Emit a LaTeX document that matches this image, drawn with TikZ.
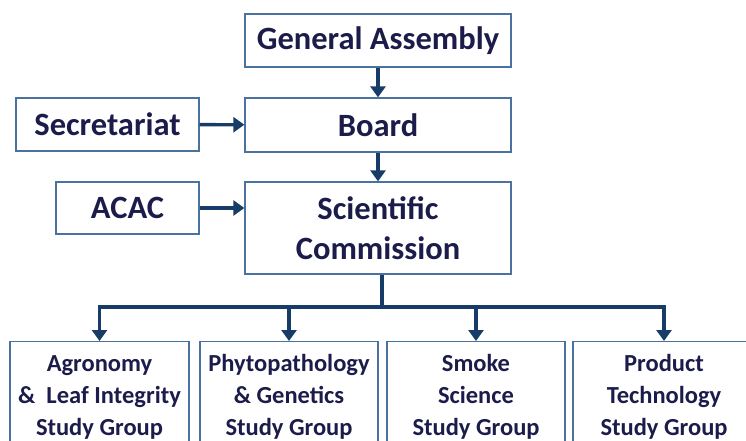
\documentclass[tikz,border=0pt]{standalone}
\usepackage{fontspec}
\setmainfont{Carlito}
\usetikzlibrary{arrows.meta}
\definecolor{linkblue}{HTML}{173C68}
\definecolor{edgeblue}{HTML}{4A72A0}
\definecolor{inkblue}{HTML}{1C1C4A}

\begin{document}
\begin{tikzpicture}[x=1pt, y=-1pt,
    unitbox/.style={draw=edgeblue, line width=1.3pt, text=inkblue, align=center, inner sep=0pt,
        font=\fontsize{32.5}{40}\selectfont\bfseries},
    groupbox/.style={unitbox, anchor=north, minimum height=111pt,
        font=\fontsize{24.5}{32}\selectfont\bfseries},
    link/.style={-{Triangle[length=11pt, width=15pt]}, line width=3.4pt, color=linkblue}]
    \useasboundingbox (0,0) rectangle (746,441);
    % top of the structure
    \node [unitbox, minimum width=266pt, minimum height=53pt] (assembly) at (378,40.5) {General Assembly};
    \node [unitbox, minimum width=266pt, minimum height=54pt] (board) at (378,125) {Board};
    \node [unitbox, minimum width=183pt, minimum height=53pt] (secretariat) at (107.5,124.5) {Secretariat};
    \node [unitbox, minimum width=143pt, minimum height=52pt] (acac) at (127.5,208) {ACAC};
    \node [unitbox, minimum width=266pt, minimum height=92pt] (commission) at (378,228) {Scientific\\Commission};
    % study groups
    \node [groupbox, minimum width=179pt] (agronomy) at (99.5,341) {Agronomy\\\&~ Leaf Integrity\\Study Group};
    \node [groupbox, minimum width=178pt] (phyto) at (289,341) {Phytopathology\\\& Genetics\\Study Group};
    \node [groupbox, minimum width=178pt] (smoke) at (476,341) {Smoke\\Science\\Study Group};
    \node [groupbox, minimum width=182pt] (product) at (664,341) {Product\\Technology\\Study Group};
    \coordinate (split) at (382,307);
    \draw [link] (assembly) -- (board);
    \draw [link] (board) -- (commission);
    \draw [link] (secretariat) -- (board);
    \draw [link] (acac) -- (acac -| commission.west);
    \draw [line width=3.4pt, color=linkblue] (commission.south -| split) -- (split);
    \draw [line width=3.4pt, color=linkblue, line cap=rect] (agronomy.north |- split) -- (product.north |- split);
    \foreach \g in {agronomy, phyto, smoke, product}
        \draw [link] (\g.north |- split) -- (\g.north);
\end{tikzpicture}
\end{document}
